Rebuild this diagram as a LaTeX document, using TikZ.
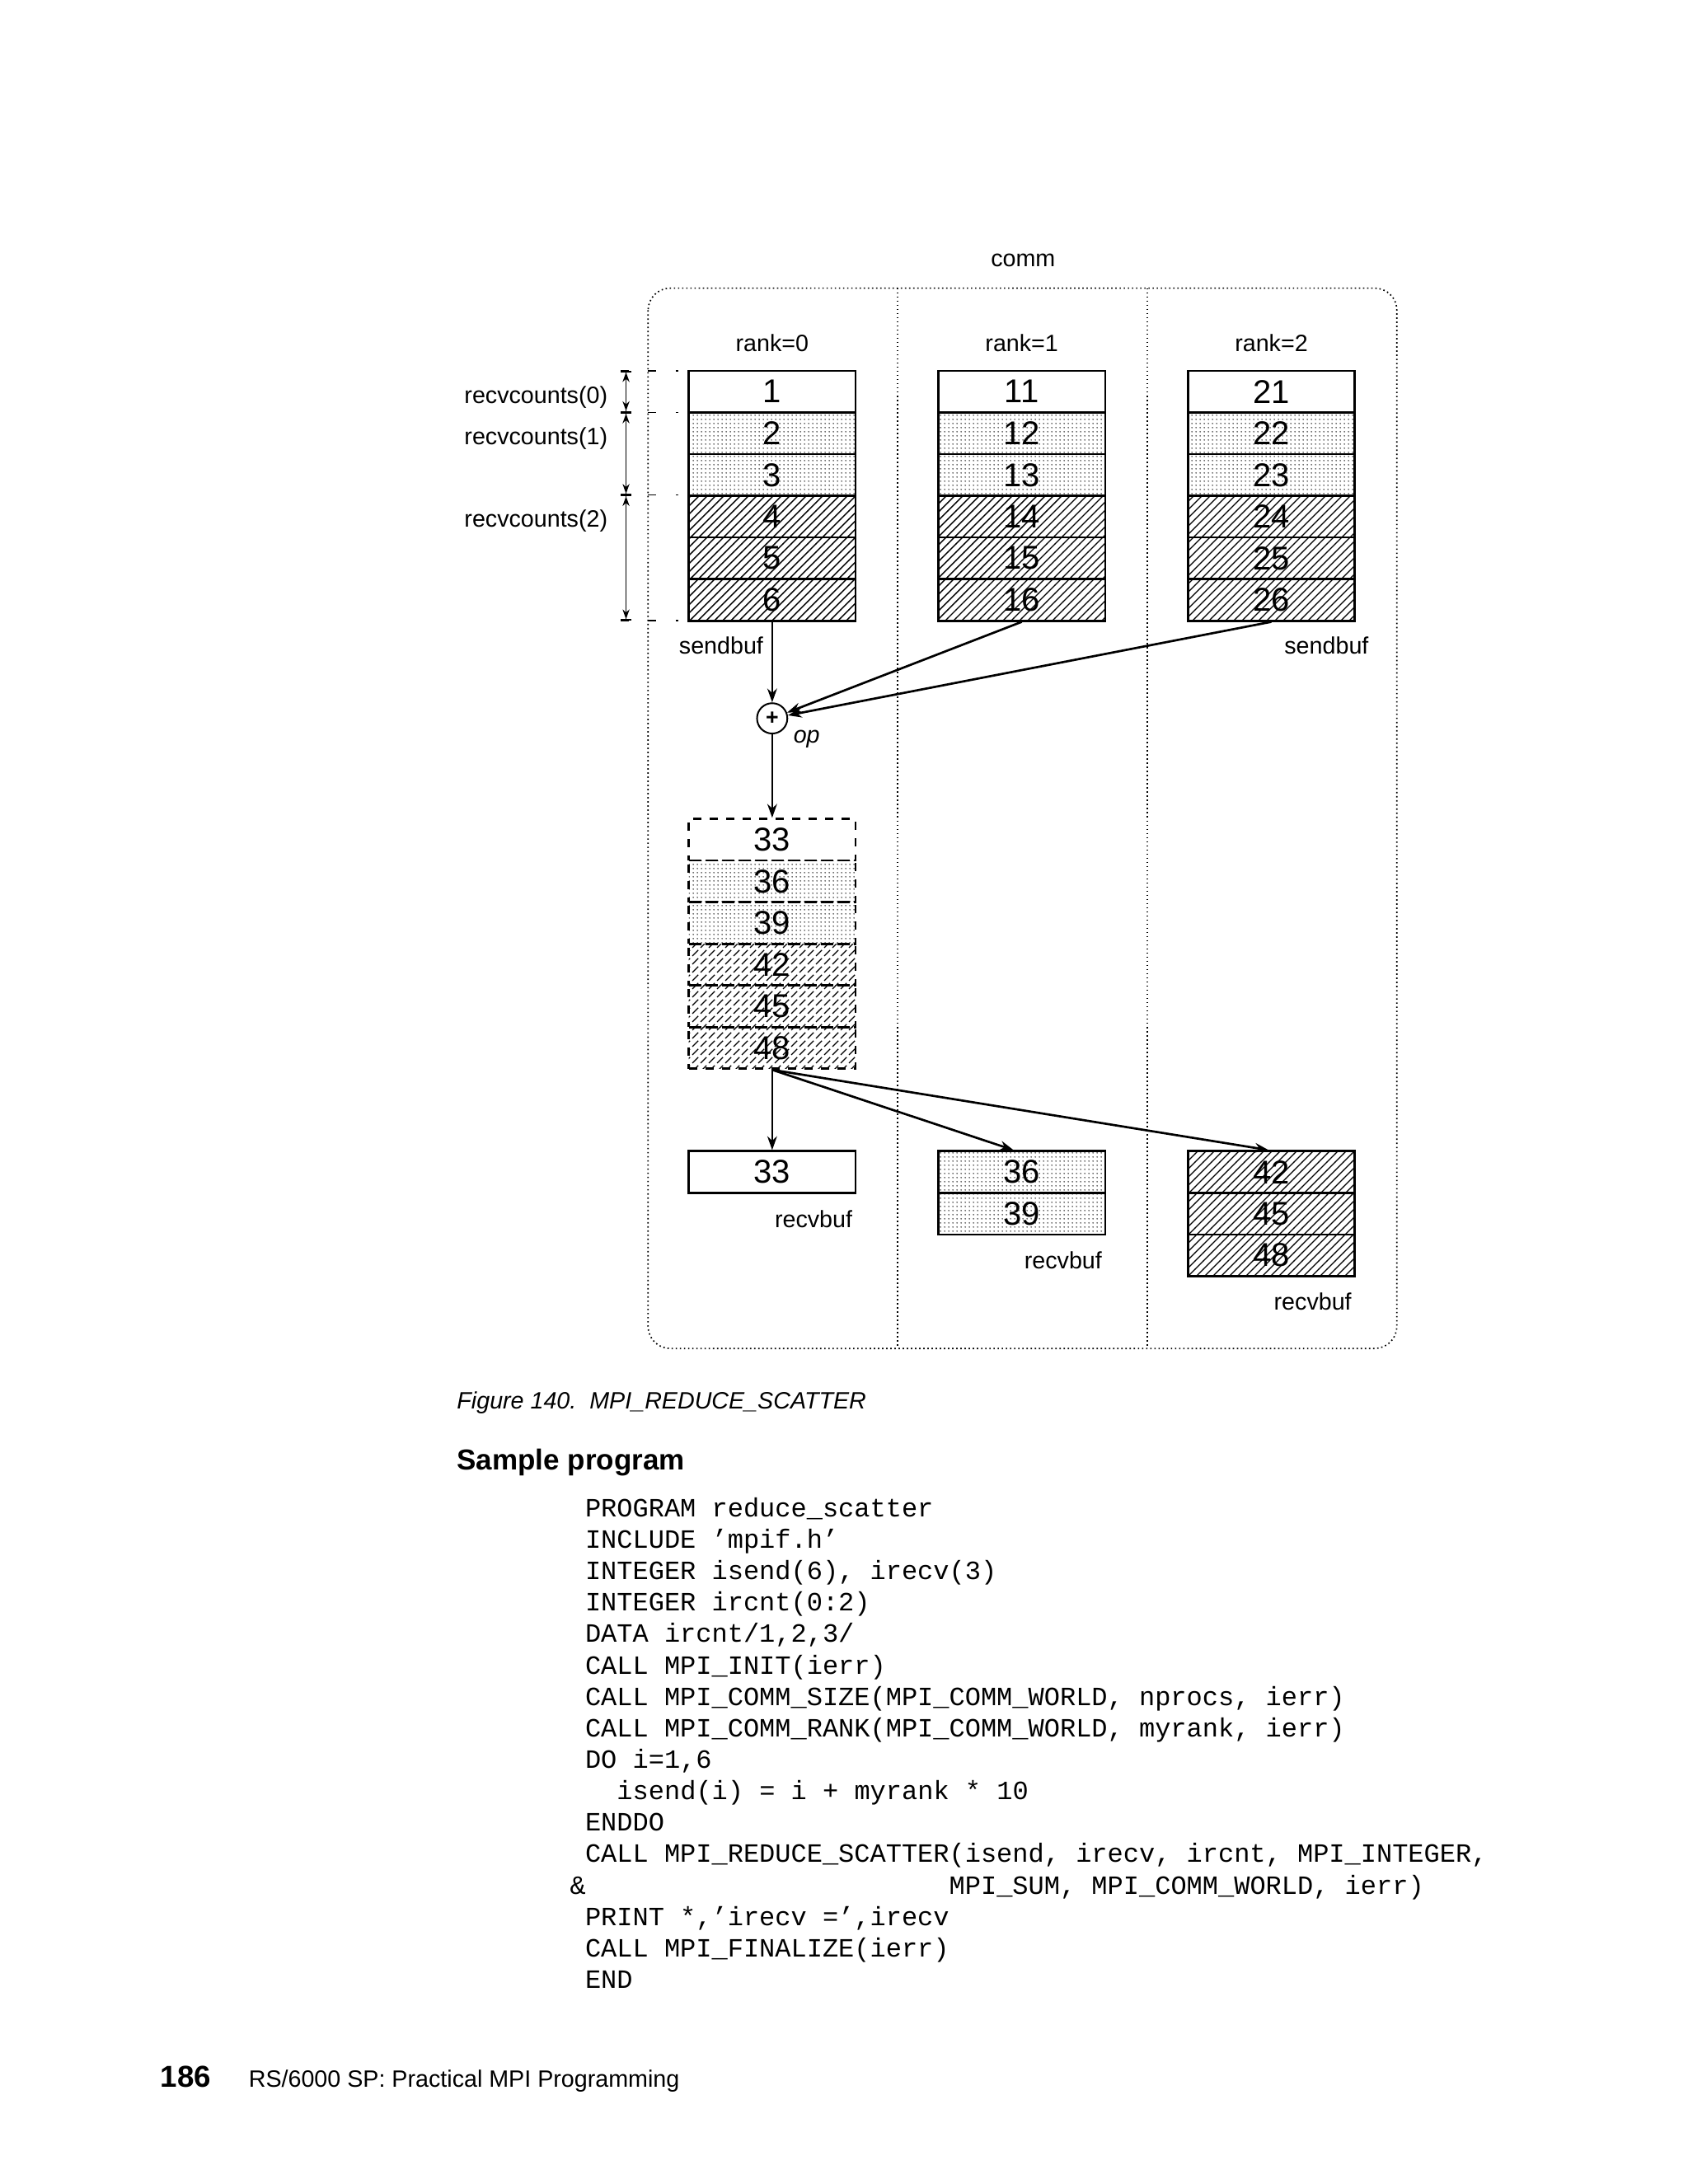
\documentclass[tikz,border=0pt]{standalone}
\usepackage{fontspec}
\setmainfont{Liberation Sans}
\setmonofont{Liberation Mono}
\usetikzlibrary{patterns,patterns.meta,arrows.meta}
\tikzdeclarepattern{name=fdots,type=uncolored,bounding box={(0,0) and (1.5pt,1.5pt)},tile size={(1.5pt,1.5pt)},code={\fill (0.4pt,0.4pt) circle (0.32pt);}}
\tikzset{
 cell/.style={draw,line width=0.8bp,minimum width=60.5bp,minimum height=15.1bp,inner sep=0pt,font=\fontsize{12}{12}\selectfont},
 dotc/.style={cell,pattern=fdots,pattern color=black!75},
 hatc/.style={cell,pattern=north east lines},
 lbl/.style={font=\fontsize{8.6}{10}\selectfont,inner sep=0pt},
 arr/.style={line width=0.8bp,-{Stealth[length=5bp,width=3.5bp]}},
 dim/.style={line width=0.5bp,{Bar[width=4bp]Stealth[length=3.5bp,width=2.5bp]}-{Stealth[length=3.5bp,width=2.5bp]Bar[width=4bp]}},
 code/.style={anchor=base west,inner sep=0pt,font=\ttfamily\fontsize{9.6}{11}\selectfont},
}
\begin{document}
\begin{tikzpicture}[x=0.5bp,y=-0.5bp]
\useasboundingbox (0,0) rectangle (1224,1584);
% comm frame
\draw[densely dotted,line width=0.5bp,rounded corners=8bp] (470,209) rectangle (1013,978);
\draw[densely dotted,line width=0.5bp] (651,209) -- (651,978) (832,209) -- (832,978);
\node[lbl] (comm) at (742,189) {comm};
\node[lbl] (r0) at (560,249) {rank=0};
\node[lbl] (r1) at (741,249) {rank=1};
\node[lbl] (r2) at (922,249) {rank=2};
% sendbufs
\foreach \c/\x in {0/560,1/741,2/922}{
 \pgfmathtruncatemacro\v{\c*10+1}
 \node[cell,fill=white] (s\c-1) at (\x,284) {\v};
 \foreach \r in {2,3}{\pgfmathtruncatemacro\v{\c*10+\r}
  \node[dotc] (s\c-\r) at (\x,{269+30.2*(\r-0.5)}) {\v};}
 \foreach \r in {4,5,6}{\pgfmathtruncatemacro\v{\c*10+\r}
  \node[hatc] (s\c-\r) at (\x,{269+30.2*(\r-0.5)}) {\v};}
}
\node[lbl] (sb0) at (523,468) {sendbuf};
\node[lbl] (sb2) at (962,468) {sendbuf};
% recvcounts
\foreach \y in {269,299,359,450}{\draw[dashed,line width=0.4bp,dash pattern=on 3bp off 7bp] (450,\y) -- (492,\y);}
\coordinate (d0) at (454,269); \coordinate (d1) at (454,299);
\coordinate (d2) at (454,359); \coordinate (d3) at (454,450);
\draw[dim] (d0) -- (d1); \draw[dim] (d1) -- (d2); \draw[dim] (d2) -- (d3);
\node[lbl,anchor=east] (rc0) at (441,288) {recvcounts(0)};
\node[lbl,anchor=east] (rc1) at (441,318) {recvcounts(1)};
\node[lbl,anchor=east] (rc2) at (441,378) {recvcounts(2)};
% op
\node[draw,circle,line width=0.6bp,minimum size=11bp,inner sep=0pt,font=\fontsize{8}{8}\selectfont\bfseries] (op) at (560,521) {+};
\node[lbl,font=\fontsize{8.6}{10}\selectfont\itshape] (opl) at (585,536) {op};
\draw[arr] (s0-6.south) -- (op);
\draw[arr] (s1-6.south) -- (op);
\draw[arr] (s2-6.south) -- (op);
% result
\node[cell,fill=white,dashed] (t1) at (560,609) {33};
\node[dotc,dashed] (t2) at (560,639.2) {36};
\node[dotc,dashed] (t3) at (560,669.4) {39};
\node[hatc,dashed] (t4) at (560,699.6) {42};
\node[hatc,dashed] (t5) at (560,729.8) {45};
\node[hatc,dashed] (t6) at (560,760) {48};
\draw[arr] (op) -- (t1.north);
% recvbufs
\node[cell,fill=white] (u0) at (560,850) {33};
\node[dotc] (u1-1) at (741,850) {36};
\node[dotc] (u1-2) at (741,880.2) {39};
\node[hatc] (u2-1) at (922,850) {42};
\node[hatc] (u2-2) at (922,880.2) {45};
\node[hatc] (u2-3) at (922,910.4) {48};
\draw[arr] (t6.south) -- (u0.north);
\draw[arr] (t6.south) -- ([xshift=-3bp]u1-1.north);
\draw[arr] (t6.south) -- ([xshift=-1bp]u2-1.north);
\node[lbl] (rb0) at (590,884) {recvbuf};
\node[lbl] (rb1) at (771,914) {recvbuf};
\node[lbl] (rb2) at (952,944) {recvbuf};
% caption & text
\node[anchor=base west,inner sep=0pt,font=\fontsize{8.6}{10}\selectfont\itshape] (cap) at (331,1022) {Figure 140.\ \ MPI\_REDUCE\_SCATTER};
\node[anchor=base west,inner sep=0pt,font=\fontsize{10.5}{12}\selectfont\bfseries] (sp) at (331,1066) {Sample program};
\node[code] (c1) at (424,1100) {PROGRAM reduce\_scatter};
\node[code] (c2) at (424,1122.8) {INCLUDE ’mpif.h’};
\node[code] (c3) at (424,1145.6) {INTEGER isend(6), irecv(3)};
\node[code] (c4) at (424,1168.4) {INTEGER ircnt(0:2)};
\node[code] (c5) at (424,1191.2) {DATA ircnt/1,2,3/};
\node[code] (c6) at (424,1214) {CALL MPI\_INIT(ierr)};
\node[code] (c7) at (424,1236.8) {CALL MPI\_COMM\_SIZE(MPI\_COMM\_WORLD, nprocs, ierr)};
\node[code] (c8) at (424,1259.6) {CALL MPI\_COMM\_RANK(MPI\_COMM\_WORLD, myrank, ierr)};
\node[code] (c9) at (424,1282.4) {DO i=1,6};
\node[code] (c10) at (447,1305.2) {isend(i) = i + myrank * 10};
\node[code] (c11) at (424,1328) {ENDDO};
\node[code] (c12) at (424,1350.8) {CALL MPI\_REDUCE\_SCATTER(isend, irecv, ircnt, MPI\_INTEGER,};
\node[code] (c13a) at (413,1373.6) {\&};
\node[code] (c13) at (688,1373.6) {MPI\_SUM, MPI\_COMM\_WORLD, ierr)};
\node[code] (c14) at (424,1396.4) {PRINT *,’irecv =’,irecv};
\node[code] (c15) at (424,1419.2) {CALL MPI\_FINALIZE(ierr)};
\node[code] (c16) at (424,1442) {END};
\node[anchor=base west,inner sep=0pt,font=\fontsize{11}{12}\selectfont\bfseries] (pg) at (116,1514) {186};
\node[anchor=base west,inner sep=0pt,font=\fontsize{8.6}{10}\selectfont] (ft) at (180,1514) {RS/6000 SP: Practical MPI Programming};
\end{tikzpicture}
\end{document}
